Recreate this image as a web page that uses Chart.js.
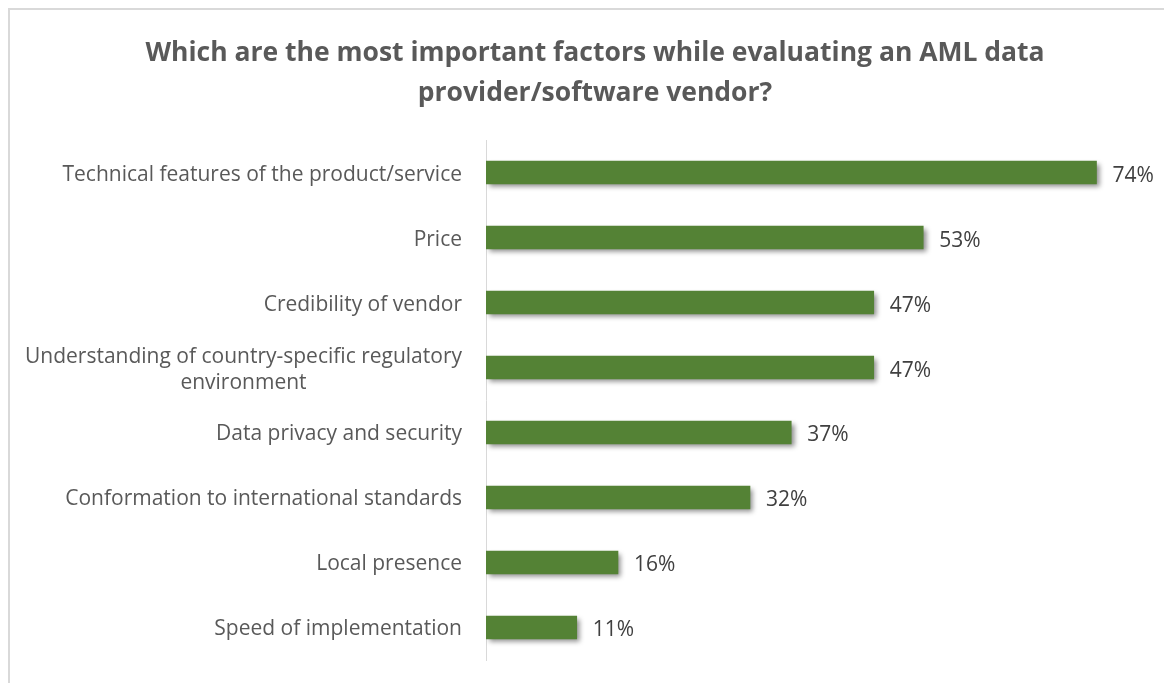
<!DOCTYPE html>
<html>
<head>
<meta charset="utf-8">
<title>AML vendor evaluation factors</title>
<script src="https://cdn.jsdelivr.net/npm/chart.js@4"></script>
<style>
  html, body { margin: 0; padding: 0; background: #fff; overflow: hidden; }
  #frame {
    position: absolute; left: 8px; top: 8px; width: 1200px; height: 720px;
    border-top: 2px solid #d9d9d9; border-left: 2px solid #d9d9d9;
  }
  #wrap { position: absolute; left: 0; top: 0; width: 1164px; height: 683px; }
</style>
</head>
<body>
<div id="frame"></div>
<div id="wrap"><canvas id="myChart"></canvas></div>
<script>
const titleLines = [
  "Which are the most important factors while evaluating an AML data",
  "provider/software vendor?"
];
const factors = [
  ["Technical features of the product/service"],
  ["Price"],
  ["Credibility of vendor"],
  ["Understanding of country-specific regulatory", "environment"],
  ["Data privacy and security"],
  ["Conformation to international standards"],
  ["Local presence"],
  ["Speed of implementation"]
];
const shares = [74, 53, 47, 47, 37, 32, 16, 11];

const barColor = "#548235";
const labelFont = "21px 'Open Sans'";
const valueFont = "21px 'Open Sans'";

// category names drawn right-aligned against the axis, wrapped lines centred on each other
const factorLabels = {
  id: "factorLabels",
  afterDraw(chart) {
    const ctx = chart.ctx;
    const yScale = chart.scales.y;
    const right = chart.chartArea.left - 24;
    const lineH = 26;
    ctx.save();
    ctx.font = labelFont;
    ctx.fillStyle = "#595959";
    ctx.textAlign = "center";
    ctx.textBaseline = "middle";
    factors.forEach((lines, i) => {
      const y = yScale.getPixelForTick(i) + 2;
      const widest = Math.max(...lines.map(l => ctx.measureText(l).width));
      const cx = right - widest / 2;
      const top = y - (lines.length - 1) * lineH / 2;
      lines.forEach((l, j) => ctx.fillText(l, cx, top + j * lineH));
    });
    ctx.restore();
  }
};

// soft drop shadow under the bars
const barShadow = {
  id: "barShadow",
  beforeDatasetDraw(chart) {
    const ctx = chart.ctx;
    ctx.save();
    ctx.shadowColor = "rgba(0,0,0,0.45)";
    ctx.shadowBlur = 5;
    ctx.shadowOffsetX = 3;
    ctx.shadowOffsetY = 3;
  },
  afterDatasetDraw(chart) {
    chart.ctx.restore();
  }
};

// percentage after the end of each bar
const valueLabels = {
  id: "valueLabels",
  afterDatasetsDraw(chart) {
    const ctx = chart.ctx;
    const meta = chart.getDatasetMeta(0);
    ctx.save();
    ctx.font = valueFont;
    ctx.fillStyle = "#404040";
    ctx.textAlign = "left";
    ctx.textBaseline = "middle";
    meta.data.forEach((bar, i) => {
      ctx.fillText(shares[i] + "%", bar.x + 16, bar.y + 3);
    });
    ctx.restore();
  }
};

const config = {
  type: "bar",
  data: {
    labels: factors,
    datasets: [{
      data: shares,
      backgroundColor: barColor,
      borderWidth: 0,
      barThickness: 23
    }]
  },
  options: {
    indexAxis: "y",
    responsive: true,
    maintainAspectRatio: false,
    animation: false,
    layout: { padding: { left: 44, right: 18, top: 0, bottom: 23 } },
    plugins: {
      legend: { display: false },
      tooltip: { enabled: false },
      title: {
        display: true,
        text: titleLines,
        color: "#595959",
        font: { family: "'Open Sans'", size: 26.5, weight: "bold", lineHeight: 1.51 },
        padding: { top: 33, bottom: 27 }
      }
    },
    scales: {
      x: {
        display: false,
        min: 0,
        max: 80
      },
      y: {
        afterFit(scale) { scale.width = 442; },
        grid: { display: false, drawTicks: false },
        border: { display: true, color: "#d9d9d9", width: 1 },
        ticks: { display: false }
      }
    }
  },
  plugins: [barShadow, valueLabels, factorLabels]
};

const myChart = document.getElementById("myChart");
const chart = new Chart(myChart, config);
</script>
</body>
</html>
